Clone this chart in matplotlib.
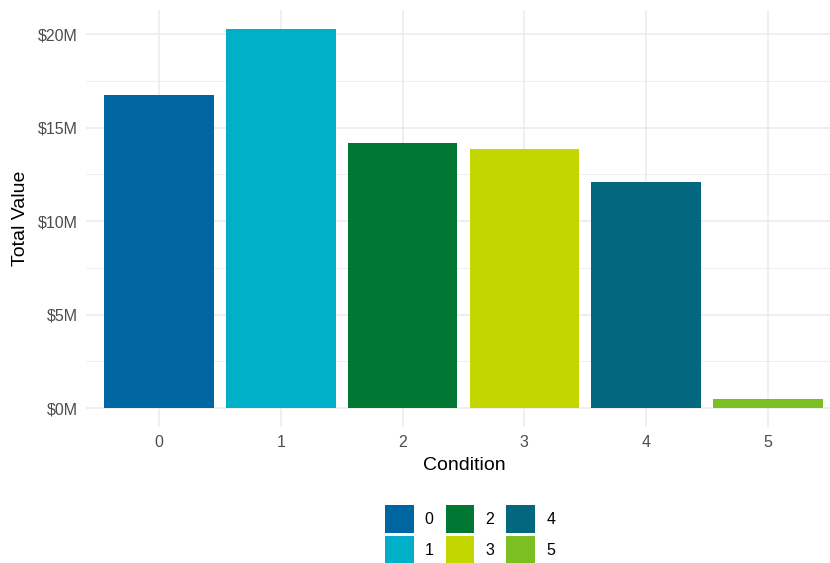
import matplotlib
matplotlib.use("Agg")
import matplotlib.pyplot as plt
from matplotlib.patches import Patch
from matplotlib.ticker import MultipleLocator, FuncFormatter

plt.rcParams["font.family"] = ["Liberation Sans", "DejaVu Sans"]

# Total value per condition, in millions of dollars
conditions = ["0", "1", "2", "3", "4", "5"]
total_value_m = [16.74, 20.27, 14.17, 13.85, 12.09, 0.48]
bar_colors = ["#0066A1", "#00AFC8", "#007833", "#C4D600", "#02677F", "#7BBF23"]

fig = plt.figure(figsize=(8.3, 5.63), dpi=100)
ax = fig.add_axes([86 / 830, 1 - 427 / 563, 1 - 86 / 830, (427 - 10) / 563])

positions = list(range(len(conditions)))
ax.bar(positions, total_value_m, width=0.9, color=bar_colors, zorder=2)

top = max(total_value_m) * 1.05
ax.set_ylim(-max(total_value_m) * 0.05, top)
ax.set_xlim(-0.6, 5.51)

ax.set_xticks(positions)
ax.set_xticklabels(conditions)
ax.yaxis.set_major_locator(MultipleLocator(5))
ax.yaxis.set_minor_locator(MultipleLocator(2.5))
ax.yaxis.set_major_formatter(FuncFormatter(lambda v, p: f"${v:.0f}M"))

ax.grid(True, which="major", color="#EBEBEB", linewidth=1.1, zorder=0)
ax.grid(True, which="minor", axis="y", color="#EBEBEB", linewidth=0.55, zorder=0)
ax.set_axisbelow(True)
for s in ax.spines.values():
    s.set_visible(False)

ax.tick_params(axis="both", which="both", length=0, labelsize=11.5, labelcolor="#4D4D4D")
ax.tick_params(axis="x", pad=6)
ax.tick_params(axis="y", pad=6)

ax.set_xlabel("Condition", fontsize=14, color="black")
ax.set_ylabel("Total Value", fontsize=14, color="black")
ax.xaxis.set_label_coords((464 - 86) / (830 - 86), -(457 - 427) / (427 - 10))
ax.yaxis.set_label_coords(-(86 - 29) / (830 - 86), 0.5)

handles = [Patch(facecolor=c, edgecolor="none", label=l) for c, l in zip(bar_colors, conditions)]
fig.legend(handles=handles, loc="center", bbox_to_anchor=(470 / 830, 1 - 534.5 / 563),
           ncol=3, frameon=False, fontsize=11.5, handlelength=1.8, handleheight=2.32,
           labelspacing=0.19, handletextpad=0.7, columnspacing=0.75, borderpad=0)

fig.savefig("out.png", dpi=100)
